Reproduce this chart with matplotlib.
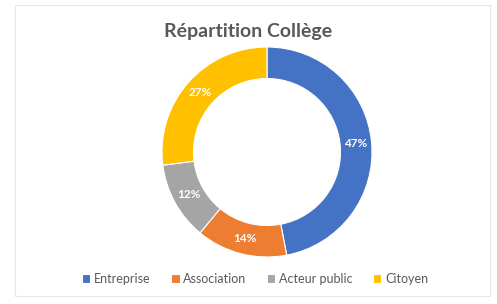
import matplotlib
matplotlib.use("Agg")
import matplotlib.pyplot as plt
from matplotlib.patches import Rectangle

categories = ["Entreprise", "Association", "Acteur public", "Citoyen"]
shares = [47, 14, 12, 27]
colors = ["#4472C4", "#ED7D31", "#A5A5A5", "#FFC000"]

plt.rcParams["font.family"] = ["Lato", "DejaVu Sans"]

fig = plt.figure(figsize=(4.97, 3.04), dpi=100)
fig.patch.set_facecolor("white")

# faint chart frame
fig.add_artist(Rectangle((15 / 497, 1 - 296 / 304), 475 / 497, 291 / 304,
                         transform=fig.transFigure, fill=False,
                         edgecolor="#e6e6e6", linewidth=0.8))

ax = fig.add_axes([(267 - 105) / 497, 1 - (152 + 105) / 304, 210 / 497, 210 / 304])
wedges, texts, autotexts = ax.pie(
    shares, colors=colors, startangle=90, counterclock=False,
    radius=1.0, wedgeprops=dict(width=0.30, edgecolor="white", linewidth=0.8),
    autopct="%d%%", pctdistance=0.85,
    textprops=dict(color="white", fontsize=8.5, fontweight="bold"),
)
ax.set_aspect("equal")
ax.set_xlim(-1, 1)
ax.set_ylim(-1, 1)

fig.text(0.5, 1 - 32 / 304, "Répartition Collège", ha="center", va="center",
         fontsize=14, fontweight="bold", color="#595959")

fig.legend(wedges, categories, loc="center", bbox_to_anchor=(0.513, 1 - 279 / 304),
           ncol=4, frameon=False, fontsize=9, labelcolor="#595959",
           handlelength=0.7, handleheight=0.7, handletextpad=0.3, columnspacing=1.6)

fig.savefig("out.png", dpi=100, facecolor="white")
